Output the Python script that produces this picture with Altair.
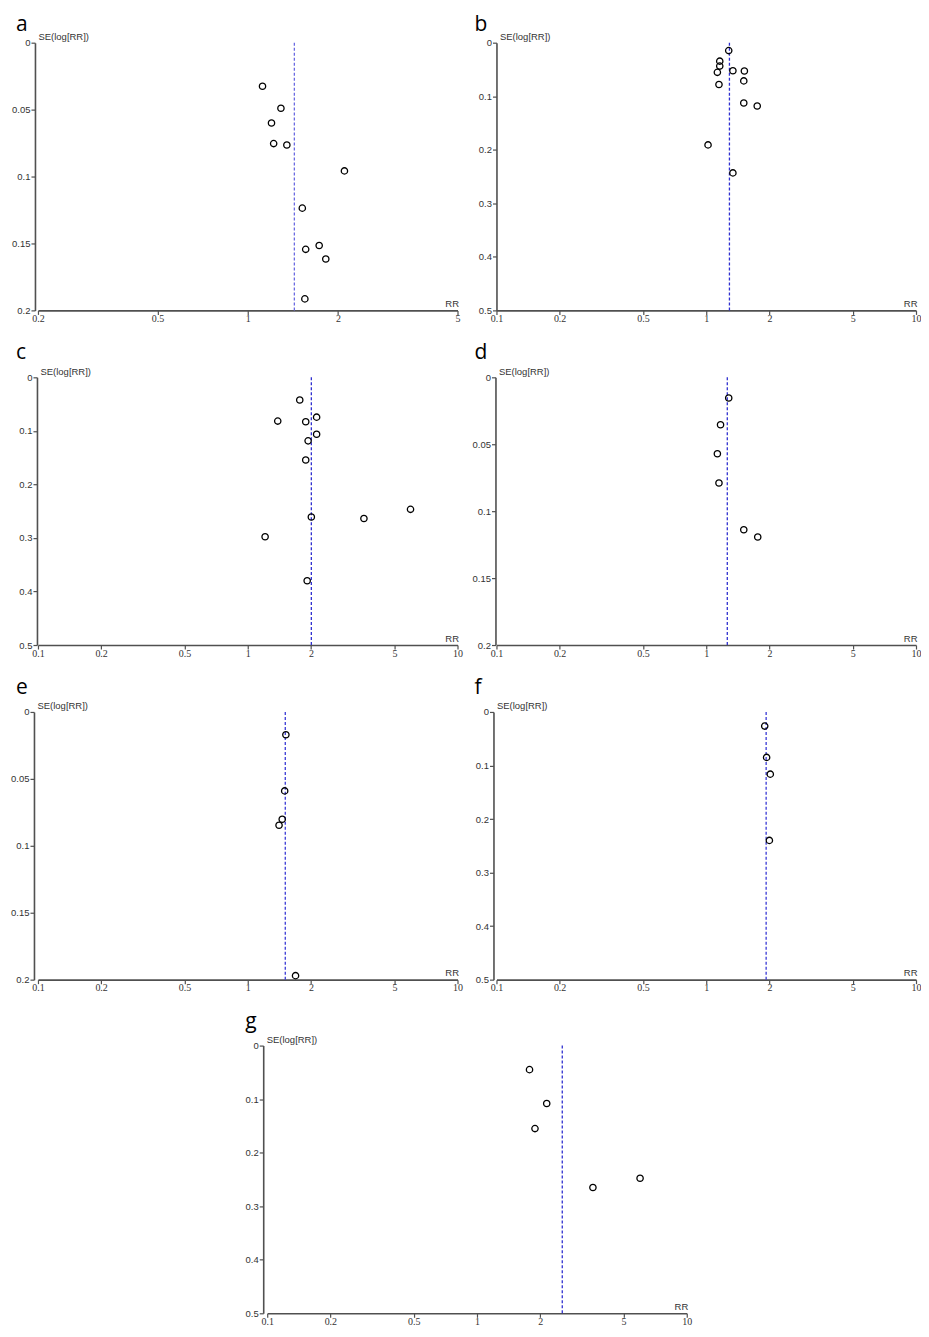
import altair as alt
import pandas as pd

# ---------------- data ----------------
a_rr = [1.12, 1.29, 1.20, 1.22, 1.35, 2.10, 1.52, 1.73, 1.56, 1.82, 1.55]
a_se = [0.0325, 0.049, 0.060, 0.0754, 0.0764, 0.0958, 0.1236, 0.1515, 0.1544, 0.1616, 0.1914]

b_rr = [1.28, 1.16, 1.16, 1.13, 1.34, 1.52, 1.51, 1.15, 1.51, 1.75, 1.02, 1.34]
b_se = [0.0148, 0.0345, 0.0437, 0.0554, 0.0523, 0.053, 0.0714, 0.0782, 0.1127, 0.1182, 0.1909, 0.2432]

c_rr = [1.77, 2.13, 1.39, 1.89, 2.13, 1.94, 1.89, 5.97, 2.01, 3.58, 1.21, 1.92]
c_se = [0.0424, 0.0744, 0.0818, 0.083, 0.1064, 0.1187, 0.1544, 0.2466, 0.2608, 0.2638, 0.2977, 0.380]

d_rr = [1.28, 1.17, 1.13, 1.15, 1.51, 1.76]
d_se = [0.0155, 0.0354, 0.0571, 0.079, 0.1139, 0.1193]

e_rr = [1.52, 1.50, 1.46, 1.41, 1.69]
e_se = [0.017, 0.059, 0.0802, 0.0846, 0.197]

f_rr = [1.90, 1.94, 2.02, 2.00]
f_se = [0.0264, 0.0849, 0.1162, 0.2399]

g_rr = [1.78, 2.15, 1.89, 5.99, 3.57]
g_se = [0.0449, 0.1082, 0.155, 0.2478, 0.265]

panel_letters = ["a", "b", "c", "d", "e", "f", "g"]
pooled_rr = [1.43, 1.29, 2.01, 1.26, 1.51, 1.93, 2.55]

x_tick_values = [0.1, 0.2, 0.5, 1, 2, 5, 10]
x_domain_a = [0.2, 5]
x_domain_other = [0.1, 10]
y_ticks_small = [0, 0.05, 0.1, 0.15, 0.2]
y_ticks_large = [0, 0.1, 0.2, 0.3, 0.4, 0.5]

series_rr = [a_rr, b_rr, c_rr, d_rr, e_rr, f_rr, g_rr]
series_se = [a_se, b_se, c_se, d_se, e_se, f_se, g_se]
x_domains = [x_domain_a] + [x_domain_other] * 6
y_tick_sets = [y_ticks_small, y_ticks_large, y_ticks_large, y_ticks_small,
               y_ticks_small, y_ticks_large, y_ticks_large]
y_axis_offsets = [3, 0, 1, 1, 4, 3, 4]
title_offsets = [-3, -3, 3, 3, 3, 3, 3]
line_colors = ["#6b6be2", "#2f2fd0", "#2f2fd0", "#2f2fd0", "#3a3ad6", "#3a3ad6", "#2f2fd0"]

W = 420
H = 268
LABEL_FONT = "Liberation Sans"
NARROW_FONT = "Liberation Sans Narrow"
AXIS_COLOR = "#505050"
TEXT_COLOR = "#333333"


def panel(i):
    letter = panel_letters[i]
    xdom = x_domains[i]
    yticks = y_tick_sets[i]
    xticks = [v for v in x_tick_values if xdom[0] <= v <= xdom[1]]
    df = pd.DataFrame({"RR": series_rr[i], "SE": series_se[i]})
    pooled_df = pd.DataFrame({"pooled": [pooled_rr[i]]})

    xscale = alt.Scale(type="log", domain=xdom, nice=False)
    yscale = alt.Scale(domain=[yticks[0], yticks[-1]], reverse=True, nice=False, zero=False)

    xaxis = alt.Axis(
        values=xticks, format="~g", grid=False,
        title="RR", titleAngle=0, titleAlign="right", titleBaseline="alphabetic",
        titleX=W + 1, titleY=-4, titleFontSize=9.5, titleFont=LABEL_FONT,
        titleFontWeight="normal", titleColor=TEXT_COLOR,
        labelFont=NARROW_FONT, labelFontSize=10, labelColor=TEXT_COLOR,
        labelPadding=-1, tickSize=4, tickColor=AXIS_COLOR, tickWidth=1.2,
        domainColor=AXIS_COLOR, domainWidth=1.6, labelFlush=False,
    )
    yaxis = alt.Axis(
        values=yticks, format="~g", grid=False, offset=y_axis_offsets[i],
        title="SE(log[RR])", titleAngle=0, titleAlign="left", titleBaseline="alphabetic",
        titleX=3, titleY=-3, titleFontSize=9.5, titleFont=LABEL_FONT,
        titleFontWeight="normal", titleColor=TEXT_COLOR,
        labelFont=LABEL_FONT, labelFontSize=9.5, labelColor=TEXT_COLOR,
        labelPadding=1, tickSize=4, tickColor=AXIS_COLOR, tickWidth=1.2,
        domainColor=AXIS_COLOR, domainWidth=1.6, labelFlush=False,
    )

    pts = alt.Chart(df).mark_point(
        shape="circle", filled=False, color="black", size=40, strokeWidth=1.3, opacity=1
    ).encode(
        x=alt.X("RR:Q", scale=xscale, axis=xaxis),
        y=alt.Y("SE:Q", scale=yscale, axis=yaxis),
    )
    rule = alt.Chart(pooled_df).mark_rule(
        color=line_colors[i], strokeDash=[3, 2], strokeWidth=1.3
    ).encode(x=alt.X("pooled:Q", scale=xscale))

    return alt.layer(rule, pts).properties(
        width=W, height=H,
        title=alt.TitleParams(
            letter, anchor="start", frame="group", fontSize=21, font="Open Sans",
            fontWeight="normal", color="black", dx=-22, offset=title_offsets[i],
        ),
    )


panels = [panel(i) for i in range(7)]

grid = alt.concat(*panels[:6], columns=2, spacing={"row": 67, "column": 39}, bounds="flush")
chart = alt.vconcat(grid, panels[6], center=True, spacing=18).properties(
    padding={"left": 2, "top": 5, "right": 0, "bottom": 0}
).configure_view(stroke=None)

chart.save("out.html", embed_options={"renderer": "svg", "actions": False})
